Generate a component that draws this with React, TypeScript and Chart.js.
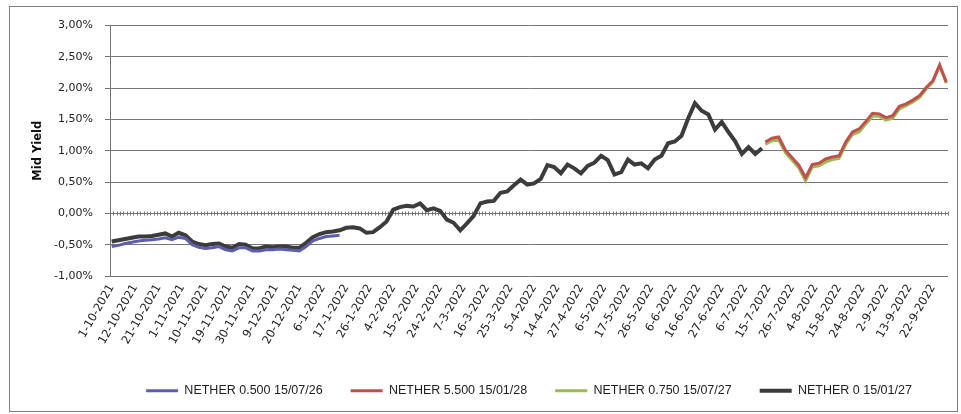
import React, { useEffect, useRef } from 'react';
import { Chart, registerables } from 'chart.js';

Chart.register(...registerables);

// x-axis tick labels (one every 7 trading days)
const tickLabels = [
  '1-10-2021', '12-10-2021', '21-10-2021', '1-11-2021', '10-11-2021', '19-11-2021',
  '30-11-2021', '9-12-2021', '20-12-2021', '6-1-2022', '17-1-2022', '26-1-2022',
  '4-2-2022', '15-2-2022', '24-2-2022', '7-3-2022', '16-3-2022', '25-3-2022',
  '5-4-2022', '14-4-2022', '27-4-2022', '6-5-2022', '17-5-2022', '26-5-2022',
  '6-6-2022', '16-6-2022', '27-6-2022', '6-7-2022', '15-7-2022', '26-7-2022',
  '4-8-2022', '15-8-2022', '24-8-2022', '2-9-2022', '13-9-2022', '22-9-2022',
];
const TICK_EVERY = 7;
const TOTAL_DAYS = 250;
const SAMPLE_STEP = 2;

// Mid yields in %, sampled every 2 trading days
const seriesNames = [
  'NETHER 0.500 15/07/26',
  'NETHER 5.500 15/01/28',
  'NETHER 0.750 15/07/27',
  'NETHER 0 15/01/27',
];
const startDay = [0, 195, 195, 0];

const nether0500 = [
  -0.53, -0.51, -0.48, -0.46, -0.44, -0.43, -0.42, -0.41, -0.39, -0.42,
  -0.38, -0.40, -0.50, -0.54, -0.56, -0.55, -0.53, -0.58, -0.60, -0.55,
  -0.55, -0.60, -0.60, -0.58, -0.58, -0.57, -0.58, -0.59, -0.60, -0.53,
  -0.44, -0.40, -0.37, -0.36, -0.35,
];
const nether5500 = [
  1.14, 1.20, 1.22, 1.01, 0.89, 0.77, 0.57, 0.78, 0.80, 0.87,
  0.90, 0.92, 1.14, 1.30, 1.35, 1.47, 1.60, 1.59, 1.53, 1.56,
  1.71, 1.75, 1.81, 1.88, 2.01, 2.12, 2.37, 2.10,
];
const nether0750 = [
  1.10, 1.16, 1.17, 0.97, 0.85, 0.73, 0.52, 0.74, 0.76, 0.82,
  0.86, 0.88, 1.10, 1.26, 1.30, 1.43, 1.55, 1.55, 1.49, 1.52,
  1.67, 1.72, 1.78, 1.85, 1.99, 2.10, 2.36, 2.08,
];
const nether0 = [
  -0.45, -0.43, -0.41, -0.39, -0.37, -0.37, -0.36, -0.34, -0.32, -0.37,
  -0.31, -0.35, -0.45, -0.49, -0.51, -0.49, -0.48, -0.53, -0.55, -0.49,
  -0.50, -0.56, -0.56, -0.53, -0.54, -0.53, -0.53, -0.55, -0.55, -0.47,
  -0.38, -0.33, -0.30, -0.29, -0.27, -0.23, -0.22, -0.24, -0.31, -0.30,
  -0.22, -0.13, 0.06, 0.10, 0.12, 0.11, 0.16, 0.05, 0.08, 0.04,
  -0.10, -0.15, -0.27, -0.16, -0.04, 0.16, 0.19, 0.20, 0.33, 0.35,
  0.45, 0.54, 0.46, 0.48, 0.55, 0.77, 0.74, 0.64, 0.78, 0.72,
  0.64, 0.76, 0.81, 0.92, 0.85, 0.62, 0.66, 0.86, 0.78, 0.80,
  0.72, 0.86, 0.92, 1.12, 1.15, 1.24, 1.52, 1.76, 1.64, 1.58,
  1.34, 1.46, 1.30, 1.15, 0.95, 1.06, 0.95, 1.04,
];
const seriesValues = [nether0500, nether5500, nether0750, nether0];
const seriesColors = ['#5e5eae', '#c0504d', '#9bbb59', '#3c3c3c'];
const seriesWidths = [3, 3, 3, 4];

const GRID = '#767676';

const zeroAxisPlugin = {
  id: 'zeroAxis',
  beforeDatasetsDraw(chart: any) {
    const { ctx, chartArea } = chart;
    const x = chart.scales.x;
    const y = chart.scales.y;
    const py = Math.round(y.getPixelForValue(0)) + 0.5;
    ctx.save();
    ctx.strokeStyle = GRID;
    ctx.lineWidth = 1;
    ctx.beginPath();
    ctx.moveTo(chartArea.left, py);
    ctx.lineTo(chartArea.right, py);
    for (let k = 0; k <= TOTAL_DAYS; k++) {
      const px = Math.round(x.getPixelForValue(k - 0.5)) + 0.5;
      ctx.moveTo(px, py - 2);
      ctx.lineTo(px, py + 2);
    }
    ctx.stroke();
    ctx.restore();
  },
};

export default function App() {
  const canvasRef = useRef<HTMLCanvasElement | null>(null);

  useEffect(() => {
    if (!canvasRef.current) return;
    const datasets = seriesNames.map((name, s) => ({
      label: name,
      data: seriesValues[s].map((v, k) => ({ x: startDay[s] + k * SAMPLE_STEP, y: v })),
      borderColor: seriesColors[s],
      backgroundColor: seriesColors[s],
      borderWidth: seriesWidths[s],
      pointRadius: 0,
      pointHoverRadius: 0,
      tension: 0,
      fill: false,
    }));

    const chart = new Chart(canvasRef.current, {
      type: 'line',
      data: { datasets },
      plugins: [zeroAxisPlugin],
      options: {
        animation: false,
        responsive: true,
        maintainAspectRatio: false,
        layout: { padding: { top: 18, right: 9, bottom: 4, left: 0 } },
        plugins: {
          tooltip: { enabled: false },
          legend: {
            position: 'bottom',
            fullSize: false,
            labels: {
              usePointStyle: true,
              pointStyle: 'line',
              pointStyleWidth: 32,
              padding: 28,
              color: '#222',
              font: { family: 'Liberation Sans', size: 12.5 },
            },
          },
        },
        scales: {
          x: {
            type: 'linear',
            min: -0.5,
            max: TOTAL_DAYS - 0.5,
            afterFit: (scale: any) => {
              scale.height = 80.5;
            },
            grid: { display: false, drawTicks: false },
            border: { display: false },
            ticks: {
              stepSize: TICK_EVERY,
              includeBounds: false,
              autoSkip: false,
              minRotation: 60,
              maxRotation: 60,
              padding: 6,
              color: '#222',
              font: { family: 'DejaVu Sans', size: 11.5 },
              callback: (v: any) => {
                const idx = Math.round(Number(v) / TICK_EVERY);
                return Number(v) % TICK_EVERY === 0 ? tickLabels[idx] ?? '' : '';
              },
            },
          },
          y: {
            min: -1,
            max: 3,
            afterFit: (scale: any) => {
              scale.width = 100;
            },
            grid: { color: GRID, lineWidth: 1, tickLength: 5, tickColor: GRID },
            border: { display: true, color: GRID },
            title: {
              display: true,
              text: 'Mid Yield',
              color: '#111',
              padding: { top: 21, bottom: 0 },
              font: { family: 'DejaVu Sans', size: 11.5, weight: 'bold' },
            },
            ticks: {
              stepSize: 0.5,
              padding: 12,
              color: '#222',
              font: { family: 'DejaVu Sans', size: 11 },
              callback: (v: any) => Number(v).toFixed(2).replace('.', ',') + '%',
            },
          },
        },
      },
    } as any);
    return () => chart.destroy();
  }, []);

  return (
    <div
      style={{
        position: 'absolute',
        left: 9,
        top: 6,
        width: 949,
        height: 406,
        border: '1px solid #7f7f7f',
        boxSizing: 'border-box',
        background: '#fff',
      }}
    >
      <div style={{ position: 'relative', width: 947, height: 404 }}>
        <canvas ref={canvasRef} />
      </div>
    </div>
  );
}
